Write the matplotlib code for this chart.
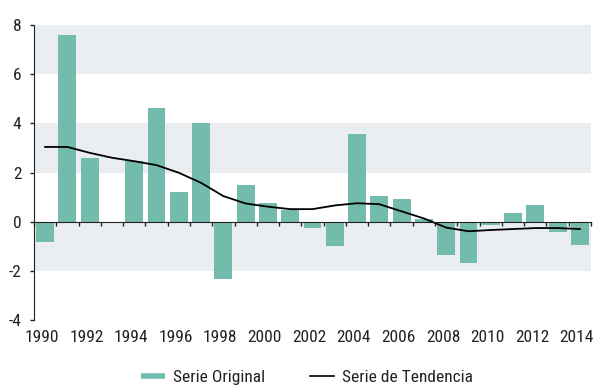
import numpy as np
import matplotlib
matplotlib.use("Agg")
import matplotlib.pyplot as plt
from matplotlib.lines import Line2D
from matplotlib.transforms import ScaledTranslation

plt.rcParams['font.family'] = ['Roboto Condensed', 'Liberation Sans', 'DejaVu Sans']

years = np.arange(1990, 2015)
original = [-0.83, 7.6, 2.6, -0.05, 2.45, 4.63, 1.19, 4.0, -2.34, 1.51,
            0.74, 0.47, -0.27, -0.99, 3.58, 1.04, 0.94, 0.09, -1.37, -1.69,
            -0.14, 0.35, 0.67, -0.42, -0.96]
tendencia = [3.04, 3.04, 2.8, 2.6, 2.46, 2.3, 1.99, 1.58, 1.04, 0.74,
             0.61, 0.51, 0.51, 0.66, 0.75, 0.71, 0.42, 0.13, -0.24, -0.39,
             -0.34, -0.30, -0.26, -0.26, -0.30]
yticks = [-4, -2, 0, 2, 4, 6, 8]
xlabels = years[::2]

teal = '#72BBAD'
band = '#EAEEF1'
ink = '#222222'

fig = plt.figure(figsize=(5.95, 3.86), dpi=100)
ax = fig.add_axes([0.0571, 0.171, 0.9362, 0.7642])

# shaded horizontal bands
for lo in (-2, 2, 6):
    ax.axhspan(lo, lo + 2, color=band, lw=0, zorder=0)

ax.bar(years, original, width=0.8, color=teal, zorder=2)
ax.plot(years, tendencia, color='black', lw=1.3, zorder=3)

ax.set_xlim(1989.5, 2014.5)
ax.set_ylim(-4, 8)
ax.set_yticks(yticks)
ax.set_yticklabels([str(v) for v in yticks], fontsize=12.5)

for s in ('top', 'right'):
    ax.spines[s].set_visible(False)
ax.spines['bottom'].set_position(('data', 0))
ax.spines['bottom'].set_color(ink)
ax.spines['left'].set_color(ink)
ax.spines['bottom'].set_zorder(4)

# category separators on the zero line
ax.set_xticks(np.append(years - 0.5, years[-1] + 0.5))
ax.tick_params(axis='x', direction='out', length=3, width=1, labelbottom=False, color=ink)
ax.tick_params(axis='y', direction='out', length=3, width=1, pad=6, color=ink, labelcolor=ink)

sec = ax.secondary_xaxis('bottom')
sec.set_xticks(xlabels)
sec.set_xticklabels([str(y) for y in xlabels], fontsize=12.5, color=ink)
sec.tick_params(length=0, pad=7)
sec.spines['bottom'].set_visible(False)
shift = ScaledTranslation(-2.3 / 72, 0, fig.dpi_scale_trans)
for lab in sec.get_xticklabels():
    lab.set_transform(lab.get_transform() + shift)

handles = [Line2D([], [], color=teal, lw=4, solid_capstyle='butt'),
           Line2D([], [], color='black', lw=1.2)]
fig.legend(handles, ['Serie Original', 'Serie de Tendencia'], loc='center',
           bbox_to_anchor=(0.516, 0.022), ncol=2, frameon=False, fontsize=12.5,
           handlelength=1.4, handletextpad=0.45, columnspacing=2.6,
           labelcolor=ink)

fig.savefig('out.png', dpi=100)
